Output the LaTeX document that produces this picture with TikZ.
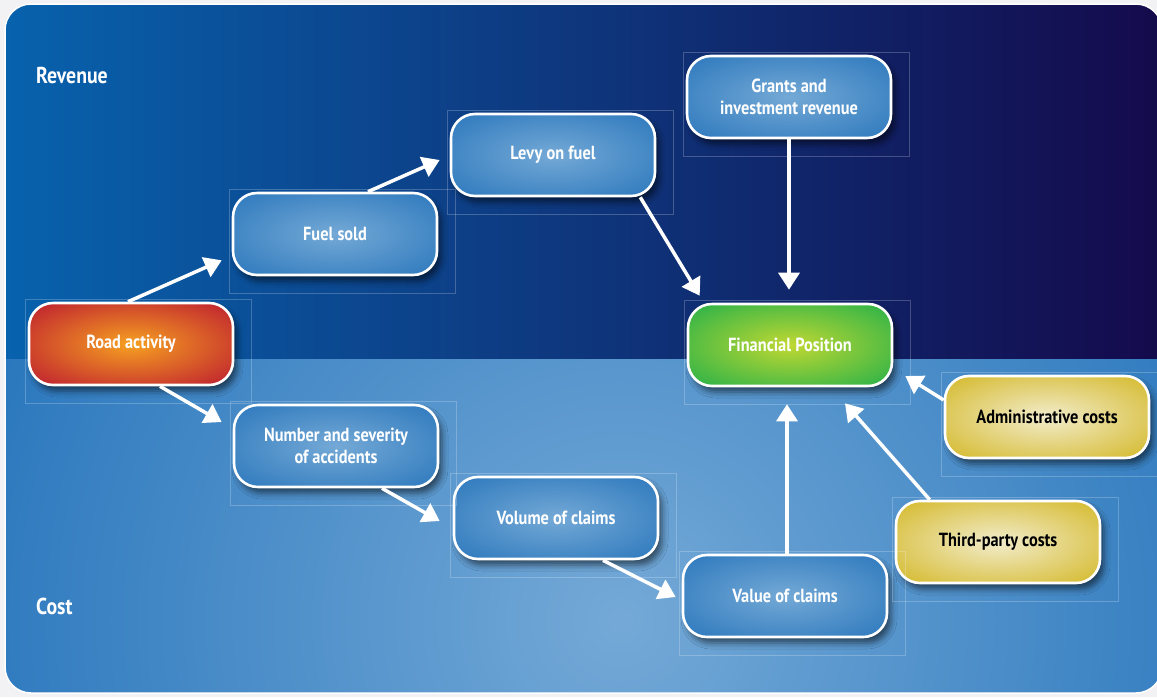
\documentclass[tikz,border=0pt]{standalone}
\usepackage{fontspec}
\setmainfont{PT Sans}[FakeStretch=0.86]
\usetikzlibrary{arrows.meta,calc,shadows.blur}

\definecolor{pagebg}{HTML}{F2F2F4}
\definecolor{topL}{HTML}{0862AD}
\definecolor{topR}{HTML}{140A4C}
\definecolor{botOut}{HTML}{2A77BD}
\definecolor{botIn}{HTML}{74A9D7}
\definecolor{bIn}{HTML}{74A9D6}
\definecolor{bOut}{HTML}{1F6FB8}
\definecolor{rIn}{HTML}{F6A021}
\definecolor{rOut}{HTML}{BC1A30}
\definecolor{gIn}{HTML}{C0D832}
\definecolor{gOut}{HTML}{12AC4C}
\definecolor{yIn}{HTML}{F2ECCB}
\definecolor{yOut}{HTML}{D0B214}

% soft glow from the centre of each box out to its rim
\pgfdeclareradialshading{blueglow}{\pgfpoint{0bp}{0bp}}%
  {color(0bp)=(bIn); color(42bp)=(bOut); color(50bp)=(bOut)}
\pgfdeclareradialshading{redglow}{\pgfpoint{0bp}{0bp}}%
  {color(0bp)=(rIn); color(36bp)=(rOut); color(50bp)=(rOut)}
\pgfdeclareradialshading{greenglow}{\pgfpoint{0bp}{0bp}}%
  {color(0bp)=(gIn); color(40bp)=(gOut); color(50bp)=(gOut)}
\pgfdeclareradialshading{yellowglow}{\pgfpoint{0bp}{0bp}}%
  {color(0bp)=(yIn); color(40bp)=(yOut); color(50bp)=(yOut)}

\tikzset{
  box/.style={draw=white, line width=2.6pt, rounded corners=24pt,
    minimum width=204pt, minimum height=82pt, align=center,
    font=\bfseries\fontsize{19}{22}\selectfont, text=white,
    blur shadow={shadow xshift=4pt, shadow yshift=-6pt,
      shadow blur radius=6pt, shadow opacity=55}},
  bluebox/.style={box, shading=blueglow},
  redbox/.style={box, shading=redglow},
  greenbox/.style={box, shading=greenglow},
  yellowbox/.style={box, shading=yellowglow, text=black},
  lab/.style={anchor=west, inner sep=0pt, text=white,
    font=\bfseries\fontsize{23}{26}\selectfont},
  frame/.style={draw=white, draw opacity=0.22, line width=0.6pt},
  conn/.style={draw=white, line width=3.5pt, -{Triangle[length=17pt,width=21pt]}}
}

\begin{document}
\begin{tikzpicture}[x=1pt,y=-1pt]
\useasboundingbox (0,0) rectangle (1157,697);
\fill[pagebg] (0,0) rectangle (1157,697);

% panel: revenue band on top, cost band below
\begin{scope}
  \clip[rounded corners=26pt] (5,4) rectangle (1162,693);
  \shade[left color=topL, right color=topR] (5,4) rectangle (1162,359);
  \fill[botOut] (5,359) rectangle (1162,693);
  \clip (5,359) rectangle (1162,693);
  \shade[inner color=botIn, outer color=botOut] (620,620) circle[radius=680];
\end{scope}
\draw[white, line width=1.5pt, rounded corners=26pt] (5,4) rectangle (1162,693);

\node[lab] (rev) at (36,75) {Revenue};
\node[lab] (cost) at (36,606) {Cost};

% boxes
\node[redbox]    (road)   at (131,344) {Road activity};
\node[bluebox]   (fuel)   at (335,234) {Fuel sold};
\node[bluebox]   (levy)   at (553,155) {Levy on fuel};
\node[bluebox]   (grants) at (789,97)  {Grants and\\investment revenue};
\node[greenbox]  (fin)    at (790,345) {Financial Position};
\node[yellowbox] (admin)  at (1047,417) {Administrative costs};
\node[yellowbox] (third)  at (998,542) {Third-party costs};
\node[bluebox]   (num)    at (336,446) {Number and severity\\of accidents};
\node[bluebox]   (vol)    at (556,518) {Volume of claims};
\node[bluebox]   (val)    at (785,596) {Value of claims};

% thin guide frames around each box
\foreach \n in {road,fuel,levy,grants,fin,admin,third,num,vol,val}
  \draw[frame] ($(\n.north west)+(-2,-2)$) rectangle ($(\n.south east)+(17,17)$);

% connectors
\draw[conn] ($(road.north)+(-3,0)$) -- ($(fuel.south west)+(-10,-16)$);
\draw[conn] ($(fuel.north)+(33,0)$) -- ($(levy.west)+(-10,5)$);
\draw[conn] ($(levy.south east)+(-16,0)$) -- ($(fin.north west)+(13,-7)$);
\draw[conn] (grants.south) -- ($(fin.north)+(-1,-13)$);
\draw[conn] ($(road.south)+(29,0)$) -- ($(num.west)+(-11,-24)$);
\draw[conn] ($(num.south)+(46,0)$) -- ($(vol.west)+(-13,3)$);
\draw[conn] ($(vol.south)+(47,0)$) -- ($(val.west)+(-6,1)$);
\draw[conn] ($(val.north)+(2,0)$) -- ($(fin.south)+(-3,17)$);
\draw[conn] ($(third.north west)+(35,0)$) -- ($(fin.south)+(55,16)$);
\draw[conn] ($(admin.west)+(0,-17)$) -- ($(fin.east)+(12,31)$);
\end{tikzpicture}
\end{document}
